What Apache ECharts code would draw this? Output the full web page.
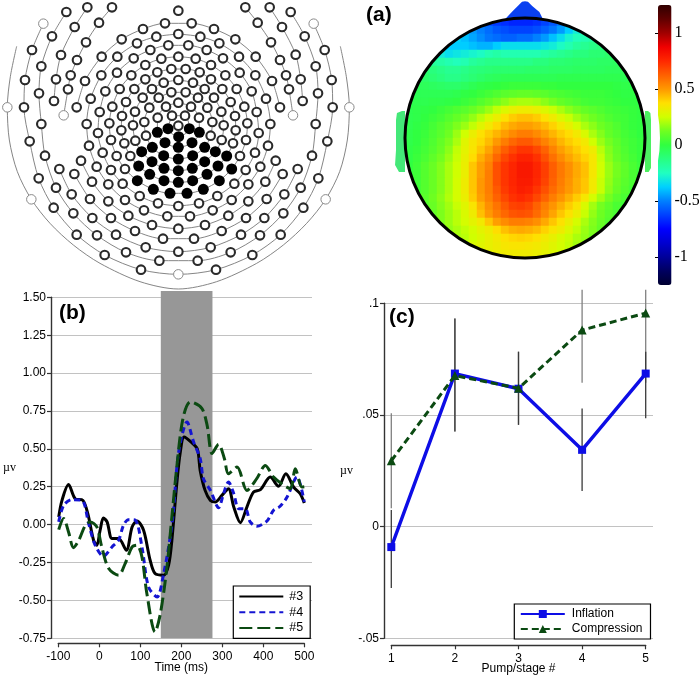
<!DOCTYPE html>
<html><head><meta charset="utf-8">
<style>html,body{margin:0;padding:0;background:#fff}#c{width:699px;height:678px}</style>
<script src="https://cdn.jsdelivr.net/npm/echarts@6/dist/echarts.min.js"></script>
</head><body><div id="c"></div>
<script>
// ---------- (top-left) sensor net: positions in the 3x picture units of the panel ----------
const netOutline = [[50,139],[31,230],[22,322],[28,420],[52,515],[94,598],[150,670],[220,735],[300,790],[420,845],[535,867],[650,845],[770,790],[850,735],[920,670],[977,598],[1019,515],[1042,420],[1048,322],[1039,230],[1021,139]];
const arc1 = [[130,71],[96,150],[75,240],[72,322],[89,424],[116,535],[161,623],[230,704],[314,765],[423,809],[535,823],[648,809],[757,765],[842,704],[910,623],[955,535],[982,424],[998,322],[995,240],[974,150],[941,71]];
const arc2 = [[199,36],[156,109],[124,199],[117,280],[124,372],[135,467],[168,563],[220,640],[291,706],[378,757],[478,782],[593,782],[692,757],[780,706],[850,640],[902,563],[936,467],[947,372],[954,280],[947,199],[914,109],[872,36]];
const arc3L = [[262,22],[224,81],[183,165],[168,238],[162,303]];
const arc3R = [[809,22],[846,81],[887,164],[902,238],[908,303]];
const arc4L = [[336,22],[297,68],[258,127],[231,180],[212,226],[204,268],[191,346]];
const arc4R = [[736,22],[773,68],[813,127],[840,180],[858,226],[867,268],[879,346]];
const arc5 = [[178,507],[215,583],[277,654],[348,704],[437,742],[535,755],[632,742],[723,704],[793,654],[853,583],[893,507]];
const arc6 = [[223,522],[270,597],[333,654],[405,693],[489,716],[582,716],[665,693],[738,654],[800,597],[848,522]];
const ringTop = [[230,322],[255,243],[305,170],[365,118],[429,87],[495,70],[575,70],[642,87],[706,118],[767,170],[816,243],[840,322]];
const ringLow = [[243,482],[276,545],[325,604],[385,647],[456,675],[535,686],[615,675],[685,647],[745,604],[796,545],[827,482]];
const ring2 = [[535,102],[469,110],[411,130],[352,170],[304,226],[272,296],[260,372],[267,437],[290,500],[325,553],[375,600],[432,631],[502,649],[570,649],[638,631],[695,600],[745,553],[781,500],[804,437],[811,372],[798,296],[766,226],[717,170],[658,130],[601,110],[535,102]];
const ring3 = [[535,618],[474,610],[419,588],[368,551],[333,510],[308,458],[294,399],[299,336],[316,274],[351,218],[401,175],[451,150],[505,136],[565,136],[620,150],[669,175],[719,218],[755,274],[770,336],[776,399],[765,458],[737,510],[703,551],[652,588],[597,610],[535,618]];
const ring4 = [[535,170],[484,176],[436,195],[394,226],[359,267],[337,320],[328,370],[333,420],[350,468],[375,507],[412,542],[460,568],[510,580],[561,580],[610,568],[658,542],[695,507],[720,468],[738,420],[742,370],[733,320],[710,267],[676,226],[633,195],[587,176],[535,170]];
const ring5 = [[514,207],[472,217],[436,238],[403,267],[378,306],[366,348],[364,391],[373,430],[391,468],[416,498],[449,523],[492,542],[535,547],[578,542],[621,523],[654,498],[680,468],[699,430],[707,391],[705,348],[692,306],[667,267],[633,238],[599,217],[557,207],[514,207]];
const ring6 = [[535,240],[491,248],[456,267],[428,293],[405,335],[399,376],[406,422],[425,455],[456,485],[492,505],[535,512],[577,505],[614,485],[646,455],[665,420],[671,376],[664,335],[642,293],[614,267],[579,248],[535,240]];
const ring7 = [[514,277],[476,293],[448,323],[433,366],[438,407],[457,442],[491,467],[535,477],[578,467],[614,442],[632,407],[637,366],[622,323],[594,293],[557,277],[514,277]];
const ring8 = [[535,308],[498,320],[473,353],[472,397],[495,428],[535,442],[576,428],[598,397],[597,353],[573,320],[535,308]];
const ring9 = [[516,347],[504,386],[536,410],[568,386],[555,347],[516,347]];
const loneSensors = [[535,32],[535,377]];
const faintSensors = [[130,71],[941,71],[22,322],[1048,322],[191,346],[879,346],[94,598],[977,598],[535,823]];
const blackSensors = [[504,386],[568,386],[472,397],[598,397],[536,410],[495,428],[576,428],[457,442],[535,442],[614,442],[425,455],[646,455],[680,468],[491,467],[535,477],[578,467],[456,485],[614,485],[416,498],[654,498],[695,507],[492,505],[535,512],[577,505],[449,523],[621,523],[412,542],[492,542],[535,547],[578,542],[658,542],[460,568],[510,580],[561,580],[610,568]];

// ---------- (a) scalp map, values x100, each row begins at the listed column ----------
const heatStart = [10,7,6,4,3,2,2,1,1,0,0,0,0,0,0,0,0,0,0,0,0,1,1,2,2,3,4,6,7,10];
const heatRows = [
[-62,-64,-66,-68,-68,-68,-66,-62,-58,-52],
[-40,-46,-50,-54,-58,-60,-62,-62,-62,-60,-56,-52,-46,-38,-30],
[-36,-40,-44,-48,-52,-54,-56,-56,-54,-54,-50,-46,-40,-34,-28,-24,-22,-20],
[-34,-38,-38,-38,-40,-42,-42,-38,-34,-34,-34,-34,-34,-32,-30,-26,-22,-18,-16,-14,-12],
[-26,-30,-34,-32,-30,-28,-26,-22,-20,-22,-22,-22,-22,-22,-20,-18,-16,-14,-12,-12,-10,-10,-8],
[-14,-18,-20,-22,-24,-22,-18,-16,-14,-14,-14,-14,-14,-14,-12,-12,-10,-10,-9,-8,-8,-8,-7,-7,-6],
[-10,-12,-14,-16,-16,-14,-12,-11,-10,-9,-9,-9,-9,-8,-8,-8,-7,-7,-7,-6,-6,-6,-6,-5,-5,-5],
[-7,-8,-10,-12,-14,-14,-12,-10,-8,-6,-5,-4,-4,-4,-4,-4,-4,-4,-3,-3,-3,-3,-3,-3,-3,-3,-4],
[-5,-5,-6,-7,-8,-8,-6,-4,-2,-1,0,1,2,2,2,2,1,1,0,0,0,0,0,0,0,-1,-2,-2],
[-4,-4,-4,-4,-4,-4,-3,-1,0,2,4,6,8,9,10,10,9,8,6,5,4,3,2,2,2,1,0,-1,-1],
[-3,-3,-3,-2,-2,-1,0,2,4,7,10,13,16,19,20,20,19,16,13,10,8,6,4,3,3,2,1,0,0,-1],
[-3,-2,-1,0,2,4,6,8,11,14,18,23,28,31,33,33,31,28,24,20,16,13,10,8,6,4,3,2,1,0],
[-3,-2,0,2,4,7,10,13,17,22,27,32,37,41,43,43,41,37,33,28,24,19,15,12,9,6,4,3,1,0],
[-3,-1,1,4,7,10,14,18,23,29,34,39,44,47,49,49,47,44,40,35,31,26,20,16,12,9,6,3,1,0],
[-2,0,2,5,8,12,18,25,32,37,41,45,49,53,56,56,53,49,45,41,38,34,27,20,15,10,7,4,2,0],
[-2,0,3,6,10,14,20,29,35,39,44,50,56,61,64,64,60,55,50,45,41,38,34,25,18,13,9,5,3,1],
[-1,1,4,7,11,16,23,30,36,42,48,56,63,68,72,72,68,62,55,49,45,41,37,33,22,15,10,6,3,1],
[-1,2,5,9,13,18,24,31,38,46,52,61,68,73,77,77,73,66,59,53,48,44,40,35,24,16,11,7,4,1],
[0,3,7,11,15,20,25,32,42,49,55,66,72,76,80,80,76,70,63,57,52,47,43,35,25,18,13,9,5,2],
[0,3,7,11,15,20,25,32,42,49,56,66,72,76,80,80,76,70,63,57,52,47,43,35,25,18,13,9,5,2],
[0,3,7,11,15,20,26,33,42,50,56,66,72,76,79,79,75,69,62,56,51,46,42,34,24,17,12,8,5,2],
[3,7,11,15,20,26,33,42,50,56,64,71,75,78,77,72,66,60,55,50,46,42,34,24,16,11,7,4],
[4,8,12,16,21,26,32,41,49,55,62,68,73,75,73,68,62,56,51,46,41,35,26,19,13,8,5,3],
[7,11,15,19,24,29,36,45,52,58,64,69,70,68,62,56,51,46,41,36,27,19,13,9,5,3],
[7,10,14,18,22,27,33,43,50,56,61,65,66,65,60,54,48,42,37,32,24,17,12,8,5,3],
[10,14,18,22,26,30,34,42,49,53,56,56,55,52,47,42,37,32,26,20,15,11,7,4],
[14,17,20,23,26,30,33,38,43,46,47,46,44,40,36,33,28,23,18,14,10,7],
[20,22,25,28,31,34,37,39,40,39,37,34,31,27,24,20,17,13,10],
[24,27,29,31,33,35,36,36,35,34,32,29,26,23,19,16],
[30,32,33,33,33,33,32,30,28,26]
];
const heatColors = ['#000030','#000060','#00009a','#0000d0','#0000ff','#0040ff','#0080ff','#00d0ff','#20ffc0','#28ff80','#30ff40','#70ff20','#d0ff00','#ffe000','#ff9800','#ff6000','#ff2800','#f00000','#a00000','#600000','#300000'];
const noseOutline = [[-.167,.99],[-.10,1.06],[-.06,1.1],[-.025,1.135],[0,1.14],[.025,1.135],[.06,1.1],[.12,1.05],[.15,.99]];
const earLeft = [[-1.025,.225],[-1.067,.208],[-1.075,.15],[-1.075,-.1],[-1.083,-.225],[-1.05,-.283],[-1,-.283],[-1,.225]];
const earRight = [[1.025,.225],[1.045,.208],[1.05,.15],[1.05,-.25],[1.03,-.283],[1,-.283],[1,.225]];
const colorbarTicks = [-1,-.5,0,.5,1];

// ---------- (b) waveforms ----------
const time3 = [-99,-91,-75,-59,-40,-28,-14,-6,2,10,19,31,47,66,80,92,108,124,136,157,169,177,189,197,207,222,239,246,258,271,283,299,315,328,344,360,376,393,417,437,455,474,490,500];
const wave3 = [.05,.16,.264,.171,.16,.073,-.103,-.136,-.037,.044,.018,-.092,-.092,-.169,-.015,.024,-.037,-.235,-.323,-.334,-.268,-.103,.27,.468,.578,.549,.5,.358,.226,.16,.15,.193,.237,.116,.013,.116,.215,.231,.314,.253,.336,.248,.204,.143];
const time4 = [-99,-87,-67,-42,-26,-10,10,31,47,59,71,88,104,120,141,157,173,181,193,214,230,246,254,271,291,303,315,328,340,356,368,384,409,425,441,458,482,500];
const wave4 = [.018,.127,.165,.16,.007,-.136,-.209,-.147,-.103,-.004,.033,.029,-.147,-.411,-.477,-.323,-.081,.095,.468,.677,.545,.437,.303,.226,.112,.204,.281,.204,.105,.105,.018,-.011,.024,.095,.121,.182,.314,.149];
const time5 = [-99,-87,-75,-63,-50,-34,-22,-6,6,23,47,63,80,92,104,116,136,149,165,177,189,204,222,250,263,275,291,305,315,336,360,384,405,425,450,466,478,494,500];
const wave5 = [-.033,.04,-.048,-.152,-.103,-.004,.018,-.015,-.147,-.29,-.334,-.257,-.147,-.136,-.213,-.455,-.708,-.587,-.279,.05,.38,.7,.81,.767,.655,.47,.53,.437,.336,.38,.226,.303,.391,.314,.259,.237,.369,.248,.25];
const bandMs = [150,276];

// ---------- (c) pump stages ----------
const stages = [1,2,3,4,5];
const inflation = [-.0091,.0687,.0619,.0345,.0687];
const compression = [.0296,.0678,.0621,.0882,.0958];
const inflationLow = [-.0275,.0427,.0457,.0161,.0487];
const inflationHigh = [.0075,.0934,.0785,.053,.0785];
const compressionLow = [.0083,.0427,.0457,.0646,.0646];
const compressionHigh = [.0509,.0934,.0785,.1063,.1063];

// ---------- build ----------
const sans = '"Liberation Sans", Arial, sans-serif', serif = '"Liberation Serif", serif';
const netLines = [netOutline,arc1,arc2,arc3L,arc3R,arc4L,arc4R,arc5,arc6,ringTop,ringLow,ring2,ring3,ring4,ring5,ring6,ring7,ring8,ring9];
const samePt = (a,b)=>a[0]===b[0]&&a[1]===b[1];
const inList = (l,p)=>l.some(q=>samePt(q,p));
const seen = new Set(), openSensors = [];
netLines.slice(1).concat([loneSensors]).forEach(l=>l.forEach(p=>{
  const k=p.join(','); if(seen.has(k)) return; seen.add(k);
  if(!inList(faintSensors,p)&&!inList(blackSensors,p)) openSensors.push(p);
}));
const heatData = [];
heatRows.forEach((row,j)=>row.forEach((v,k)=>heatData.push([heatStart[j]+k,j,v])));
const cats = Array.from({length:30},(_,i)=>String(i));

const series = [];
netLines.forEach(l=>series.push({type:'line',xAxisIndex:0,yAxisIndex:0,data:l,smooth:.3,symbol:'none',silent:true,
  lineStyle:{color:'#777',width:.9},z:2}));
series.push({type:'scatter',xAxisIndex:0,yAxisIndex:0,data:openSensors,symbolSize:8.6,silent:true,z:3,itemStyle:{color:'#fff',borderColor:'#2a2a2a',borderWidth:2.1,opacity:1}});
series.push({type:'scatter',xAxisIndex:0,yAxisIndex:0,data:faintSensors,symbolSize:9.5,silent:true,z:3,itemStyle:{color:'#fff',borderColor:'#8a8a8a',borderWidth:1,opacity:1}});
series.push({type:'scatter',xAxisIndex:0,yAxisIndex:0,data:blackSensors,symbolSize:11,silent:true,z:3,itemStyle:{color:'#000',opacity:1}});
const heatIndex = series.length;
series.push({type:'heatmap',xAxisIndex:1,yAxisIndex:1,data:heatData,silent:true,progressive:0,z:2});
series.push({type:'custom',xAxisIndex:2,yAxisIndex:2,data:[[0,0]],z:4,silent:true,renderItem:(params,api)=>{
  const c=api.coord([0,0]), u=api.size([1,0])[0];
  const poly=(pts,fill)=>({type:'polygon',shape:{points:pts.map(p=>api.coord(p))},style:{fill}});
  return {type:'group',children:[
    {type:'circle',shape:{cx:c[0],cy:c[1],r:u+7.5},style:{fill:'none',stroke:'#fff',lineWidth:15}},
    poly(noseOutline,'#0a40f0'),poly(earLeft,'#44e878'),poly(earRight,'#4cf060'),
    {type:'circle',shape:{cx:c[0],cy:c[1],r:u},style:{fill:'none',stroke:'#000',lineWidth:3}}
  ]};
}});
series.push({type:'line',name:'#3',xAxisIndex:5,yAxisIndex:5,data:time3.map((t,i)=>[t,wave3[i]]),smooth:.3,symbol:'none',z:5,
  lineStyle:{color:'#000',width:3},itemStyle:{color:'#000'},
  markArea:{silent:true,itemStyle:{color:'#979797',opacity:1},data:[[{xAxis:bandMs[0],yAxis:-.75},{xAxis:bandMs[1],yAxis:1.5416}]]}});
series.push({type:'line',name:'#4',xAxisIndex:5,yAxisIndex:5,data:time4.map((t,i)=>[t,wave4[i]]),smooth:.3,symbol:'none',z:6,
  lineStyle:{color:'#1414d2',width:3,type:[6,4]},itemStyle:{color:'#1414d2'}});
series.push({type:'line',name:'#5',xAxisIndex:5,yAxisIndex:5,data:time5.map((t,i)=>[t,wave5[i]]),smooth:.3,symbol:'none',z:7,
  lineStyle:{color:'#0b4a12',width:3,type:[13,5]},itemStyle:{color:'#0b4a12'}});
const bars=(lo,hi,col,w)=>({type:'custom',xAxisIndex:7,yAxisIndex:7,z:3,silent:true,data:stages.map((s,i)=>[s,lo[i],hi[i]]),
  renderItem:(p,api)=>{const a=api.coord([api.value(0),api.value(1)]),b=api.coord([api.value(0),api.value(2)]);
    return {type:'line',shape:{x1:a[0],y1:a[1],x2:b[0],y2:b[1]},style:{stroke:col,lineWidth:w}};}});
series.push(bars(compressionLow,compressionHigh,'#808080',1.3));
series.push(bars(inflationLow,inflationHigh,'#3a3a3a',1.3));
series.push({type:'line',name:'Inflation',xAxisIndex:7,yAxisIndex:7,data:stages.map((s,i)=>[s,inflation[i]]),symbol:'rect',symbolSize:8,showAllSymbol:true,z:5,
  lineStyle:{color:'#0d0de6',width:3.4},itemStyle:{color:'#0d0de6'}});
series.push({type:'line',name:'Compression',xAxisIndex:7,yAxisIndex:7,data:stages.map((s,i)=>[s,compression[i]]),symbol:'triangle',symbolSize:9,showAllSymbol:true,z:6,
  lineStyle:{color:'#0b4a12',width:3,type:[7,4]},itemStyle:{color:'#0b4a12'}});

const off = {show:false};
const hidden = (min,max,extra)=>Object.assign({type:'value',show:false,min,max,splitLine:off},extra||{});
const axisBase = {axisLine:{show:true,onZero:false,lineStyle:{color:'#333',width:1.4}},axisTick:{show:true,length:4,lineStyle:{color:'#333',width:1.2}},
  axisLabel:{color:'#000',fontFamily:sans,fontSize:12,margin:5}};
const xLabel = Object.assign({},axisBase.axisLabel,{margin:7});
const gridLine = {show:true,lineStyle:{color:'#c2c2c2',width:1}};
const nameText = {color:'#000',fontFamily:sans,fontSize:12};
const muText = {color:'#000',fontFamily:serif,fontSize:12};
const fixedGrid = g=>Object.assign({outerBoundsMode:'none',containLabel:false},g);

const option = {
  animation:false, backgroundColor:'#fff',
  grid:[
    {left:0,top:0,width:360,height:292},
    {left:405,top:18,width:240,height:240},
    {left:381,top:0,width:288,height:276},
    {left:658,top:5,width:13.5,height:280},
    {left:51,top:297.3,width:261,height:341},
    {left:58.3,top:291,width:246,height:347.3},
    {left:384,top:303.3,width:269,height:335},
    {left:391.3,top:289.7,width:254.4,height:348.6}
  ].map(fixedGrid),
  xAxis:[
    hidden(0,1080),
    {type:'category',show:false,data:cats,gridIndex:1},
    hidden(-1.2,1.2,{gridIndex:2}),
    hidden(0,1,{gridIndex:3}),
    hidden(-100,500,{gridIndex:4}),
    Object.assign({},axisBase,{type:'value',gridIndex:5,min:-100,max:500,interval:100,offset:5,position:'bottom',splitLine:off,axisLabel:xLabel,
      name:'Time (ms)',nameLocation:'middle',nameGap:18,nameMoveOverlap:false,nameTextStyle:nameText}),
    hidden(1,5,{gridIndex:6}),
    Object.assign({},axisBase,{type:'value',gridIndex:7,min:1,max:5,interval:1,offset:7,position:'bottom',splitLine:off,axisLabel:xLabel,
      name:'Pump/stage #',nameLocation:'middle',nameGap:17,nameMoveOverlap:false,nameTextStyle:nameText})
  ],
  yAxis:[
    hidden(0,876,{inverse:true}),
    {type:'category',show:false,data:cats,inverse:true,gridIndex:1},
    hidden(-1.15,1.15,{gridIndex:2}),
    {type:'value',gridIndex:3,position:'right',min:-1.25,max:1.25,splitLine:off,axisLine:off,
      axisTick:{show:true,inside:true,length:3,customValues:colorbarTicks,lineStyle:{color:'#000'}},
      axisLabel:{customValues:colorbarTicks,color:'#000',fontFamily:serif,fontSize:16,margin:3,formatter:v=>String(v)}},
    Object.assign({},axisBase,{type:'value',gridIndex:4,min:-.75,max:1.5,interval:.25,splitLine:gridLine,position:'left',
      axisLabel:Object.assign({},axisBase.axisLabel,{formatter:v=>v.toFixed(2)}),
      name:'\u00b5v',nameLocation:'middle',nameRotate:0,nameGap:35,nameMoveOverlap:false,nameTextStyle:muText}),
    hidden(-.75,1.5416,{gridIndex:5}),
    Object.assign({},axisBase,{type:'value',gridIndex:6,min:-.05,max:.1,interval:.05,splitLine:gridLine,position:'left',
      axisLabel:Object.assign({},axisBase.axisLabel,{formatter:v=>{const s=String(+v.toFixed(2));return s.replace('0.','.');}}),
      name:'\u00b5v',nameLocation:'middle',nameRotate:0,nameGap:31,nameMoveOverlap:false,nameTextStyle:muText}),
    hidden(-.05,.1063,{gridIndex:7})
  ],
  visualMap:[{type:'continuous',seriesIndex:heatIndex,dimension:2,min:-125,max:125,calculable:false,show:true,realtime:false,
    left:658,top:5,itemWidth:13.5,itemHeight:280,padding:0,text:null,showLabel:false,hoverLink:false,inRange:{color:heatColors},textStyle:{fontSize:0}}],
  legend:[
    {data:['#3','#4','#5'],left:233.3,top:586,orient:'vertical',selectedMode:false,backgroundColor:'#fff',borderColor:'#000',borderWidth:1.2,borderRadius:0,
     padding:[4,7,4,5],itemWidth:44,itemHeight:14,itemGap:2.7,z:20,itemStyle:{color:'rgba(0,0,0,0)',borderColor:'rgba(0,0,0,0)',borderWidth:0},
     textStyle:{color:'#000',fontFamily:sans,fontSize:12.5,padding:[0,0,0,1]}},
    {data:['Inflation','Compression'],left:514.3,top:604,orient:'vertical',selectedMode:false,backgroundColor:'#fff',borderColor:'#000',borderWidth:1.2,borderRadius:0,
     padding:[4,8,4,5.5],itemWidth:44,itemHeight:10,itemGap:3,z:20,textStyle:{color:'#000',fontFamily:sans,fontSize:12,padding:[0,0,0,2]}}
  ],
  graphic:[
    {type:'text',left:366,top:5,z:30,style:{text:'(a)',font:'bold 21px '+sans,fill:'#000'}},
    {type:'text',left:59,top:303,z:30,style:{text:'(b)',font:'bold 21px '+sans,fill:'#000'}},
    {type:'text',left:389,top:307,z:30,style:{text:'(c)',font:'bold 21px '+sans,fill:'#000'}}
  ],
  series
};
echarts.init(document.getElementById('c'),null,{renderer:'canvas'}).setOption(option);
</script></body></html>
